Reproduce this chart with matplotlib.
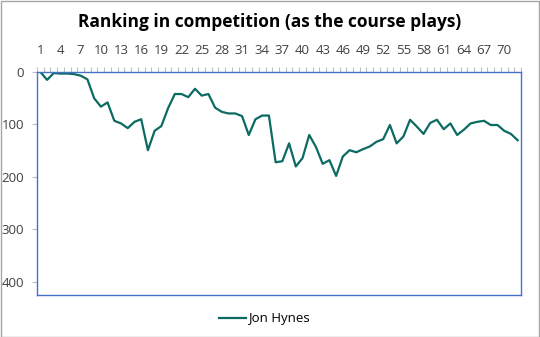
import numpy as np
import matplotlib
matplotlib.use("Agg")
import matplotlib.pyplot as plt
from matplotlib.patches import Rectangle

# ranking per round
rounds = list(range(1, 73))
ranking = [0, 15, 2, 3, 3, 4, 7, 14, 50, 66, 58, 93,
           98, 107, 95, 90, 149, 112, 103, 69, 42, 42, 48, 32,
           45, 42, 68, 76, 79, 79, 84, 120, 90, 83, 83, 172,
           170, 136, 180, 164, 120, 143, 175, 168, 198, 161, 149, 153,
           147, 142, 133, 128, 101, 136, 123, 91, 104, 118, 97, 91,
           109, 98, 120, 110, 98, 95, 93, 101, 101, 112, 118, 130]
x_labels = list(range(1, 73, 3))
y_ticks = [0, 100, 200, 300, 400]
series_name = "Jon Hynes"

plt.rcParams['font.family'] = ['Open Sans', 'DejaVu Sans']

fig = plt.figure(figsize=(5.4, 3.37), dpi=100)
ax = fig.add_axes([37 / 540, 42 / 337, 484 / 540, 223 / 337])

ax.plot(rounds, ranking, color='#0B6B63', linewidth=1.6, label=series_name)

ax.set_xlim(0.5, 72.5)
ax.set_ylim(425, 0)

# x axis on top, labels every 3rd round, tick marks between categories
ax.xaxis.tick_top()
ax.set_xticks(x_labels)
ax.set_xticklabels([str(v) for v in x_labels], fontsize=9.5, color='#404040')
ax.set_xticks(np.arange(0.5, 73, 1), minor=True)
ax.tick_params(axis='x', which='major', length=0, pad=11)
ax.tick_params(axis='x', which='minor', length=3.5, color='#BFBFBF', width=0.8)

ax.set_yticks(y_ticks)
ax.set_yticklabels([str(v) for v in y_ticks], fontsize=9.5, color='#404040')
ax.tick_params(axis='y', length=3.5, color='#BFBFBF', width=0.8, pad=6)

for s in ax.spines.values():
    s.set_color('#4472C4')
    s.set_linewidth(1.0)

# title centred on the whole chart, not the plot area
fig.text(0.5, 1 - 22 / 337, "Ranking in competition (as the course plays)",
         fontsize=12.5, fontweight='bold', color='black', ha='center', va='center')

fig.legend(loc='lower center', bbox_to_anchor=(0.49, 0.0), frameon=False,
           fontsize=9.5, handlelength=2.0, handletextpad=0.2)

# chart border
fig.patches.append(Rectangle((0.001, 0.001), 0.997, 0.996, transform=fig.transFigure,
                             fill=False, edgecolor='#A6A6A6', linewidth=1.0))

fig.savefig("out.png", dpi=100)
